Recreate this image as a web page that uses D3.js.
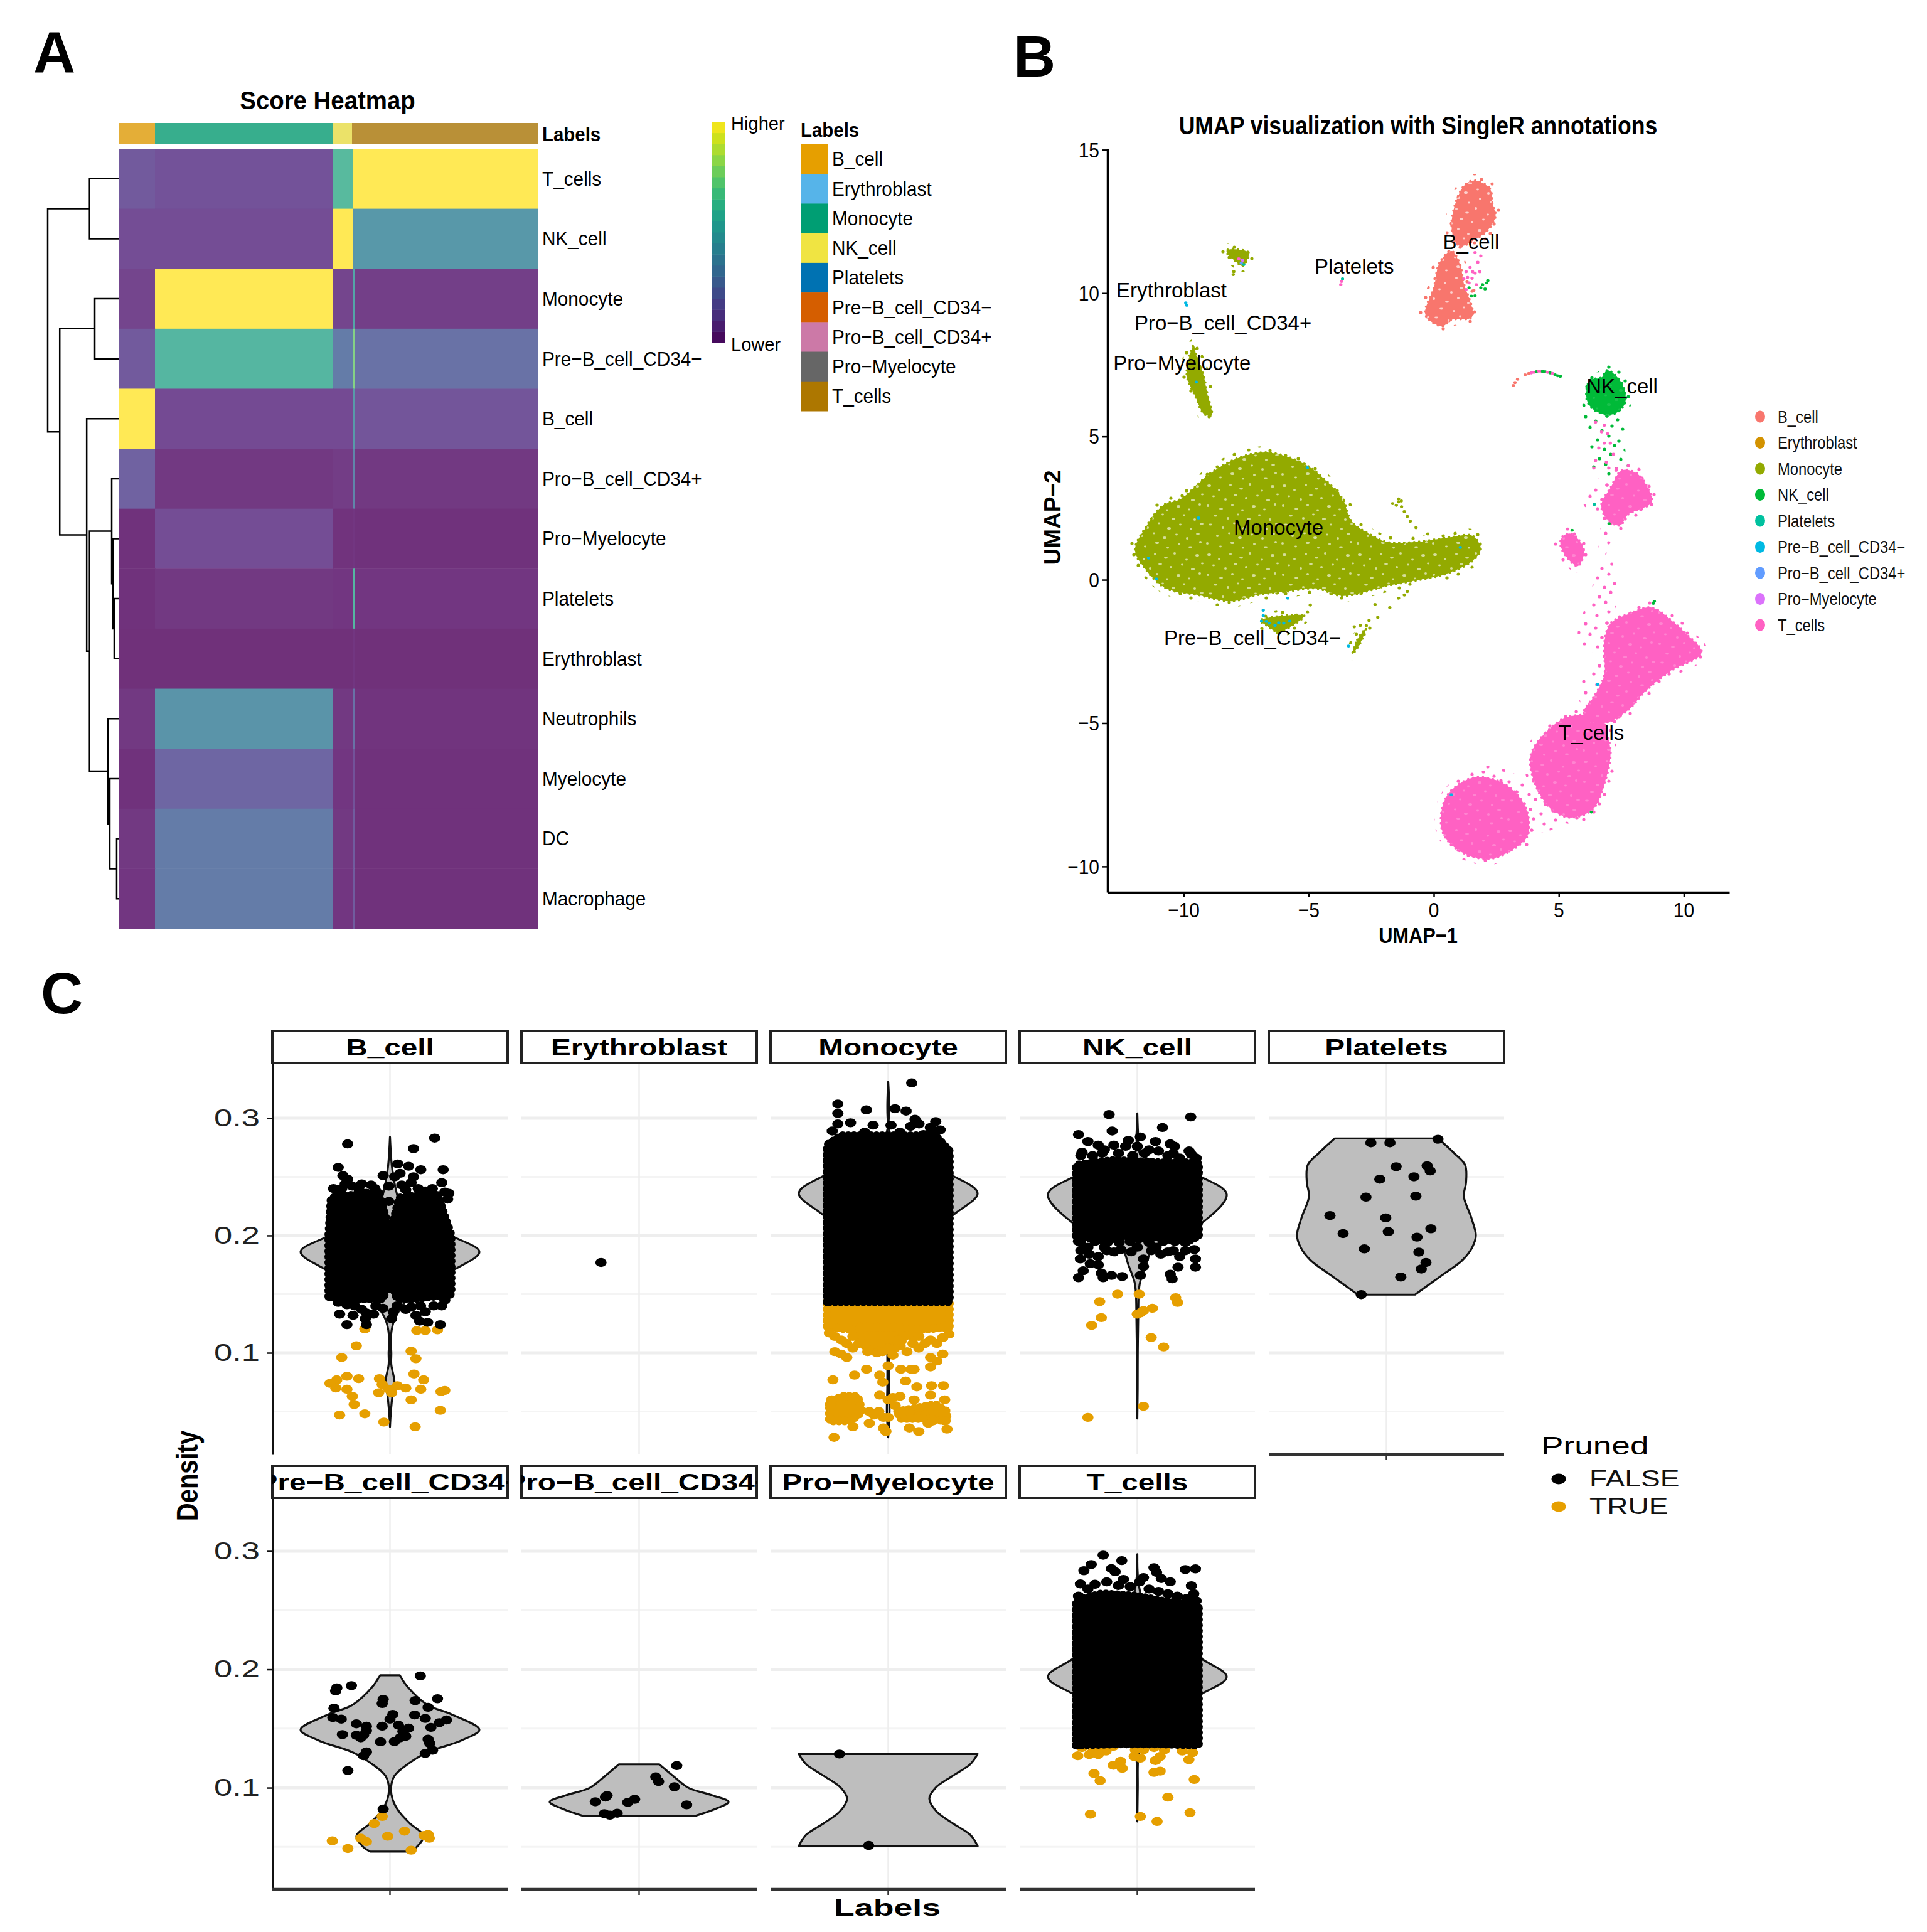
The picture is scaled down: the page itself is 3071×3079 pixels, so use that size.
<!DOCTYPE html>
<html><head><meta charset="utf-8">
<style>html,body{margin:0;padding:0;background:#fff}svg{display:block}text{font-family:"Liberation Sans",Arial,sans-serif;fill:#000}</style>
<script src="https://cdn.jsdelivr.net/npm/d3@7"></script></head><body>
<script>
// ---------- Panel A data ----------
const heatRows=["T_cells","NK_cell","Monocyte","Pre−B_cell_CD34−","B_cell","Pro−B_cell_CD34+","Pro−Myelocyte","Platelets","Erythroblast","Neutrophils","Myelocyte","DC","Macrophage"];
const heatColumns=["B_cell","Monocyte","NK_cell","mixed","T_cells"];
const heatColumnCells=[58,284,32,2,292];
const heatScores=[
[.15,.12,.62,1,1],[.1,.1,1,.42,.44],[.07,1,.07,.5,.05],[.15,.6,.3,.75,.25],
[1,.09,.09,.45,.13],[.18,.03,.04,.35,.03],[.005,.1,.01,.02,.005],[.005,.03,.02,.6,.02],
[0,0,0,.02,0],[.03,.42,.03,.25,.015],[.005,.2,.02,.12,.005],[.03,.3,.03,.16,.005],[.02,.3,.02,.16,.005]];
const annotGroups=["B_cell","Monocyte","NK_cell","T_cells"];
const annotCells=[58,284,30,296];
const labelNames=["B_cell","Erythroblast","Monocyte","NK_cell","Platelets","Pre−B_cell_CD34−","Pro−B_cell_CD34+","Pro−Myelocyte","T_cells"];
const labelColors=["#E69F00","#56B4E9","#009E73","#F0E442","#0072B2","#D55E00","#CC79A7","#666666","#AD7700"];
const dendrogram={h:1,c:[{h:.41,c:["T_cells","NK_cell"]},{h:.83,c:[{h:.336,c:["Monocyte","Pre−B_cell_CD34−"]},{h:.45,c:["B_cell",{h:.41,c:[{h:.097,c:["Pro−B_cell_CD34+",{h:.08,c:["Pro−Myelocyte",{h:.062,c:["Platelets","Erythroblast"]}]}]},{h:.15,c:["Neutrophils",{h:.124,c:["Myelocyte",{h:.027,c:["DC","Macrophage"]}]}]}]}]}]}]};

// ---------- Panel B data (UMAP units) ----------
const umapNames=["B_cell","Erythroblast","Monocyte","NK_cell","Platelets","Pre−B_cell_CD34−","Pro−B_cell_CD34+","Pro−Myelocyte","T_cells"];
const umapColors=["#F8766D","#D39200","#93AA00","#00BA38","#00C19F","#00B9E3","#619CFF","#DB72FB","#FF61C3"];
const umapXTicks=[-10,-5,0,5,10], umapYTicks=[-10,-5,0,5,10,15];
const bCellUpper=[[1.65,13.93],[2.24,13.65],[2.35,13.09],[2.47,12.7],[2.16,12.2],[1.65,11.87],[1.06,11.64],[.82,11.87],[.71,12.42],[.94,13.32],[1.29,13.82]];
const bCellLower=[[.71,11.47],[1.06,10.97],[1.18,10.41],[1.53,9.18],[.71,9.07],[.35,8.85],[-.12,9.02],[-.35,9.3],[0,10.19],[.24,11.08]];
const monoBody=[[-10.12,2.82],[-8.94,3.71],[-7.76,4.27],[-6.59,4.44],[-5.18,4.04],[-4.35,3.49],[-3.65,2.82],[-3.29,2.04],[-2.59,1.6],[-1.88,1.32],[-.71,1.32],[.71,1.49],[1.53,1.54],[1.88,1.09],[1.53,.65],[.47,.2],[-.71,-.02],[-1.88,-.21],[-3.65,-.56],[-4.71,-.3],[-5.88,-.41],[-7.06,-.53],[-8.12,-.75],[-9.41,-.53],[-10.7,-.3],[-11.53,.37],[-11.95,1.04],[-11.53,1.82],[-10.82,2.6]];
const monoStreak=[[-9.6,8.18],[-9.88,7.17],[-9.53,6.39],[-9.18,5.78],[-8.89,5.74],[-9.06,6.5],[-9.22,7.17],[-9.5,7.84]];
const monoTriangle=[[-8.28,11.5],[-7.41,11.42],[-7.48,11.14],[-7.65,10.95],[-7.88,11.08],[-8.24,11.36]];
const monoPreB=[[-6.94,-1.42],[-5.18,-1.25],[-5.65,-1.59],[-6.24,-1.81],[-6.7,-1.59]];
const monoTail=[[-3.25,-2.59],[-3.06,-2.09],[-2.71,-1.7],[-2.94,-2.2]];
const tBlobLow=[[.35,-7.9],[.71,-7.34],[1.65,-6.89],[2.82,-7.12],[3.65,-7.9],[3.76,-8.91],[3.06,-9.46],[2.12,-9.74],[.94,-9.41],[.35,-8.79]];
const tBlobMid=[[3.88,-6.11],[4.47,-5.33],[5.41,-4.77],[6.59,-4.88],[7.06,-5.89],[6.82,-7.12],[6.35,-8.01],[5.41,-8.29],[4.59,-7.9],[4,-7]];
const tArm=[[6,-4.66],[6.47,-3.99],[6.82,-3.32],[6.82,-2.2],[7.06,-1.53],[7.76,-1.2],[8.71,-.97],[9.65,-1.53],[10.07,-1.87],[10.71,-2.54],[9.41,-3.21],[8.47,-3.88],[7.76,-4.55],[6.82,-4.99]];
const tTop=[[7.53,3.82],[8.12,3.71],[8.59,3.15],[8.71,2.7],[7.76,2.27],[7.45,1.9],[6.95,2.1],[6.7,2.6],[7.06,3.2]];
const tSmall=[[5.53,1.6],[6,1.04],[5.76,.48],[5.29,.82],[5.06,1.26],[5.18,1.54]];
const nkCore=[[6.94,7.31],[7.53,6.84],[7.65,6.17],[7.18,5.78],[6.47,5.89],[6.12,6.28],[6.24,6.95],[6.71,7.06]];
const tSparseNeck=[[5.76,-1.98],[6,-1.08],[6.35,-.19],[6.59,.59],[7.06,.7],[7.29,-.08],[7.29,-.86],[7.06,-1.53],[6.82,-2.2],[6.47,-2.54],[6,-2.31]];
const tSparseLower=[[5.76,-3.77],[6.35,-2.98],[6.82,-2.87],[6.59,-3.99],[6,-4.44]];
const tSparseGap=[[3.65,-6.89],[4.47,-7.68],[5.18,-8.35],[4.82,-8.68],[4.12,-8.85],[3.65,-8.91],[3.41,-8.01],[2.82,-6.45],[2,-6.56]];
const tSparseTop=[[6,2.6],[6.2,3.3],[7,3.6],[7.4,1.8],[7.06,1.3],[6.75,.6],[6.55,1.3],[6.7,2.2]];
const nkSparseNeck=[[6,5.83],[7.53,5.72],[7.65,4.6],[7.76,3.82],[6.35,3.71],[6.24,4.6],[5.93,5.5]];
const arcPoints=[[3.18,6.78,0],[3.25,6.88,0],[3.35,7,0],[3.65,7.15,0],[3.8,7.2,0],[3.9,7.22,8],[4,7.24,8],[4.1,7.26,3],[4.2,7.28,8],[4.3,7.28,8],[4.35,7.27,3],[4.45,7.26,3],[4.55,7.24,8],[4.65,7.22,3],[4.75,7.2,8],[4.85,7.15,3],[4.95,7.12,3],[5.06,7.1,3]];
const bRegionPoints=[[1.65,11.42,8],[1.76,11.08,8],[1.84,10.75,8],[1.29,10.75,8],[1.53,10.52,8],[1.41,10.36,8],[1.65,10.7,8],[1.88,11.3,8],[1.2,10.5,8],[1.29,10.13,8],[1.45,10.9,8],[1.7,10.3,8],[1.35,10.55,8],[1.55,10.75,8],[2.12,10.36,3],[1.88,10.19,3],[1.65,9.91,3],[2.16,10.44,3],[1.41,10.19,3],[2.05,10.15,3],[1.95,10.3,3],[1.6,10.1,0],[1.5,9.9,3]];
const minorPoints=[[-3.69,10.41,8],[-3.65,10.5,4],[-3.72,10.3,8],[-9.88,9.58,5],[-9.92,9.66,5],[-7.8,11.2,8],[-7.65,11.15,7],[-7.7,11.05,6],[-7.6,11,4],[-8,10.75,2],[-8.02,10.65,2],[-9.5,6.9,5],
[-6.82,-1.25,5],[-6.89,-1.44,5],[-6.59,-1.51,5],[-6.35,-1.59,5],[-6,-1.51,5],[-5.76,-1.44,5],[-6.82,-1.06,5],[-5.84,-.64,5],[-3.41,-2.31,5],[-6.2,-1.5,5],[-6.7,-1.45,5],[-9.41,2.16,5],[1.06,1.13,5],[-11.1,.03,5],[-11.41,.76,5],[-5.06,3.91,5],
[8.82,-.75,3],[8.78,-.82,3],[5.53,1.73,3],[7.01,1.96,3],[6.42,2.63,4],[6.3,-8.1,3],[6.55,-3.65,5],[.7,-7.5,5]];
const monoTrailPoints=[[-1.41,2.82],[-1.65,2.66],[-1.29,2.55],[-1.41,2.72],[-1.18,2.38],[-1.06,2.21],[-.94,2.04],[-.71,1.82],[-.24,1.6],[-1.5,2.6],[-1.3,2.75],[-2.59,-1.42],[-2.24,-1.31],[-2.35,-.86],[-1.76,-.97],[-1.18,-.53],[-1.06,-.41],[-1.41,-.64],[-4.94,-.88],[-2.94,-1.59],[-3.18,-1.64],[-2.7,-1.6],[-3.1,-1.9]];
const neckPinkPoints=[[6.82,5.39],[6.47,5.5],[7.06,4.77],[6.82,4.77],[6.71,5.16],[6.47,4.16],[7.18,4.38],[7.29,3.82],[6.9,4.1],[6.6,4.6],[6.95,5.1],[7,3.9],[6.4,3.9]];
const umapLabels=[["B_cell",1.49,11.8],["Platelets",-3.18,10.94],["Erythroblast",-10.49,10.1],["Pro−B_cell_CD34+",-8.43,8.96],["Pro−Myelocyte",-10.07,7.57],["NK_cell",7.53,6.76],["Monocyte",-6.21,1.84],["Pre−B_cell_CD34−",-7.25,-2.03],["T_cells",6.3,-5.32]];

// ---------- Panel C data: [score, relative density] and [jitter offset, score] ----------
const scoreTicks=[.1,.2,.3], scoreMinor=[.05,.15,.25];
const violinBCell=[[.284,0],[.26,.02],[.245,.05],[.23,.1],[.22,.18],[.2,.68],[.186,1],[.17,.7],[.15,.25],[.13,.06],[.12,.02],[.11,.01],[.1,.015],[.09,.015],[.075,.05],[.065,.03],[.05,.01],[.037,0]];
const violinMonocyte=[[.331,0],[.29,.01],[.27,.15],[.251,.72],[.236,1],[.217,.72],[.19,.3],[.16,.08],[.14,.02],[.1,.01],[.07,.01],[.05,.015],[.028,0]];
const violinNK=[[.304,0],[.285,.01],[.27,.03],[.25,.71],[.235,1],[.21,.71],[.19,.18],[.175,.1],[.16,.03],[.15,.015],[.13,.01],[.1,.005],[.07,.004],[.044,0]];
const violinPlatelets=[[.2826,.58],[.27,.76],[.26,.88],[.245,.89],[.2335,.865],[.215,.95],[.2,1],[.19,.96],[.179,.85],[.165,.6],[.1496,.32]];
const violinPreB=[[.195,.11],[.185,.2],[.17,.42],[.162,.69],[.149,1],[.14,.8],[.13,.42],[.12,.2],[.11,.05],[.1,.012],[.09,.03],[.08,.1],[.07,.22],[.059,.375],[.05,.3],[.046,.22]];
const violinProB=[[.1198,.225],[.11,.38],[.1,.55],[.094,.8],[.088,1],[.082,.85],[.076,.62]];
const violinProMy=[[.1285,1],[.12,.92],[.11,.72],[.1,.53],[.0908,.46],[.08,.54],[.07,.72],[.06,.92],[.0507,1]];
const violinT=[[.2974,0],[.27,.02],[.24,.15],[.2095,.71],[.1937,1],[.179,.71],[.16,.2],[.14,.05],[.125,.01],[.1,.005],[.0715,0]];

const denseBCell=[[-.26,.148],[-.26,.2],[-.25,.232],[-.1,.236],[-.04,.232],[-.012,.21],[.012,.21],[.04,.232],[.2,.236],[.26,.2],[.26,.15],[.1,.146],[.03,.146],[.015,.155],[-.015,.155],[-.03,.146],[-.2,.146]];
const denseMonocyte=[[-.26,.1436],[-.26,.277],[-.2,.285],[.2,.285],[.26,.272],[.26,.1436]];
const denseMonocyteOrange=[[-.26,.1436],[.26,.1436],[.26,.122],[.15,.12],[-.15,.12],[-.26,.122]];
const patchMonocyteOrange=[[-.12,.122],[.06,.122],[.06,.106],[0,.102],[-.08,.102],[-.12,.11]];
const patchMonoLowLeft=[[-.25,.056],[-.2,.063],[-.13,.063],[-.11,.05],[-.16,.042],[-.25,.042]];
const patchMonoLowRight=[[.04,.05],[.2,.056],[.25,.05],[.25,.042],[.15,.044],[.05,.044]];
const denseNK=[[-.26,.2],[-.26,.26],[-.1,.264],[.1,.262],[.26,.262],[.26,.2],[.14,.196],[.05,.2],[0,.196],[-.05,.2],[-.15,.196]];
const denseT=[[-.26,.136],[-.26,.258],[-.15,.264],[0,.262],[.1,.258],[.26,.254],[.26,.136],[.1,.137],[-.1,.137]];

const blackBCell=[[-.18,.278],[.1,.274],[.19,.283],[-.22,.258],[.226,.256],[.033,.261],[.079,.259],[.131,.256],[-.029,.251],[-.2,.251],[-.18,.248],[.02,.25],[.043,.253],[.22,.245],[-.205,.24],[-.16,.242],[-.064,.24],[-.005,.242],[.067,.239],[.233,.237],[.245,.231],[-.1,.236],[-.005,.229],[-.23,.152],[.233,.145],[-.183,.141],[-.214,.133],[-.157,.132],[-.1,.134],[-.183,.124],[-.1,.124],[.214,.124],[.014,.135],[.126,.127],[.16,.126],[.067,.137],[.186,.14],[.007,.129],[-.105,.129],
[-.24,.24],[-.22,.236],[-.19,.244],[-.13,.238],[-.08,.243],[-.05,.236],[.05,.243],[.09,.245],[.12,.24],[.15,.238],[.18,.24],[.25,.236],[.1,.25],[-.12,.244],[-.15,.14],[-.22,.143],[-.06,.14],[-.03,.138],[.03,.14],[.09,.139],[.13,.14],[.15,.135],[.22,.14],[-.25,.148],[-.12,.137],[.11,.132],[-.07,.133]];
const orangeBCell=[[-.107,.1204],[.114,.119],[.15,.119],[.202,.1196],[-.143,.106],[.09,.1014],[-.205,.096],[.11,.095],[.102,.082],[-.183,.08],[-.133,.078],[-.226,.077],[-.255,.074],[-.045,.078],[.143,.077],[-.033,.073],[.031,.072],[-.23,.07],[-.183,.069],[.067,.07],[.131,.069],[.217,.067],[.233,.068],[-.048,.066],[.007,.066],[-.16,.063],[-.152,.056],[.09,.06],[-.214,.047],[-.107,.048],[.214,.051],[-.026,.041],[.107,.037],[-.005,.069]];
const blackErythroblast=[[-.162,.177]];
const blackMonocyte=[[-.214,.312],[-.214,.304],[-.093,.307],[.1,.33],[.029,.308],[.076,.306],[.114,.299],[.202,.297],[-.214,.295],[-.16,.296],[-.064,.294],[.012,.294],[.131,.295],[.179,.292],[.221,.29],[-.238,.289],[.19,.287],[.095,.293],[-.1,.288],[.05,.288],[.15,.286]];
const orangeMonocyte=[[-.227,.114],[-.2,.111],[-.176,.108],[-.15,.104],[-.2,.099],[-.176,.096],[-.227,.101],[-.125,.108],[-.087,.101],[-.048,.1],[-.023,.101],[0,.104],[.04,.111],[.08,.101],[.105,.108],[.13,.104],[.156,.108],[.18,.111],[.207,.108],[.232,.113],[.258,.116],[.105,.114],[.13,.114],[-.15,.114],[.18,.096],[.207,.093],[.232,.099],[.18,.088],[-.25,.117],[.08,.115],[-.235,.077],[-.143,.081],[-.092,.086],[-.036,.081],[-.023,.075],[0,.089],[.02,.098],[.054,.086],[.097,.086],[.11,.086],[.074,.076],[.122,.071],[.184,.072],[.235,.072],[.18,.064],[-.036,.064],
[-.08,.05],[-.06,.047],[-.04,.05],[-.02,.045],[0,.06],[.02,.062],[.05,.063],[-.23,.028],[-.02,.036],[-.01,.033],[.09,.036],[.13,.033],[.17,.04],[.19,.042],[.24,.06],[.24,.042],[-.24,.06],[-.15,.037],[-.08,.04],[.03,.055],[.0,.045],[.07,.047],[.11,.06],[.09,.05],[.25,.035]];
const blackNK=[[-.12,.303],[.227,.301],[.107,.292],[-.107,.289],[-.25,.286],[.013,.284],[-.21,.28],[.077,.28],[-.038,.281],[.14,.278],[.158,.276],[-.166,.277],[-.1,.277],[0,.276],[.05,.273],[-.235,.271],[-.14,.273],[-.05,.276],[.23,.269],[.153,.27],[-.242,.194],[-.204,.184],[-.242,.18],[-.166,.182],[-.1,.186],[-.077,.194],[.05,.194],[.153,.187],[.242,.188],[.247,.18],[.247,.173],[.173,.173],[.026,.18],[.026,.1735],[-.166,.175],[-.23,.17],[-.153,.168],[-.25,.164],[-.145,.164],[-.11,.166],[-.064,.165],[.013,.166],[.14,.167],[.148,.163],[.204,.187],[.1,.184],[-.026,.186],[-.128,.194],[.204,.194],
[-.25,.195],[-.21,.19],[-.18,.195],[-.13,.187],[-.07,.188],[0,.19],[.08,.19],[.11,.195],[.16,.195],[.22,.196],[.24,.198],[-.24,.187],[-.2,.176],[.18,.182],[-.14,.19],[.13,.186],[.06,.187],[-.03,.195],[-.24,.268],[-.19,.268],[-.15,.27],[-.08,.27],[-.02,.268],[.03,.27],[.09,.272],[.13,.268],[.18,.266],[.25,.266],[.22,.272]];
const orangeNK=[[-.084,.15],[.008,.15],[.163,.147],[.171,.143],[-.16,.1436],[.013,.134],[.026,.136],[.064,.138],[-.153,.13],[-.194,.1234],[.059,.113],[.112,.105],[.026,.0545],[-.21,.045],[0,.133]];
const blackPlatelets=[[-.066,.279],[.015,.279],[.219,.282],[.041,.2586],[.173,.2594],[.186,.255],[.117,.25],[-.028,.248],[-.087,.2327],[.125,.2335],[-.24,.217],[-.003,.215],[.189,.2057],[-.184,.2016],[.008,.2033],[.13,.1986],[-.094,.1886],[.138,.1858],[.168,.177],[.148,.1714],[.061,.1646],[-.107,.1496]];
const blackPreB=[[.129,.1945],[-.226,.1844],[-.164,.1863],[-.231,.1818],[.202,.1752],[-.029,.1747],[-.033,.1712],[.107,.1736],[-.238,.1673],[.162,.168],[-.243,.1594],[-.207,.158],[.012,.162],[0,.158],[.105,.1615],[.15,.1586],[.24,.1573],[.21,.155],[-.143,.154],[-.033,.152],[.036,.1528],[.174,.151],[-.1,.152],[-.1,.1483],[.079,.1504],[-.112,.1446],[-.202,.1449],[-.143,.1443],[-.124,.1422],[.067,.1435],[.043,.1422],[.019,.139],[-.04,.1388],[.162,.141],[.169,.1375],[.181,.1317],[.15,.129],[-.1,.1303],[-.112,.127],[-.179,.1145],[-.029,.082],[.055,.1475]];
const orangePreB=[[-.033,.0757],[-.067,.0697],[.062,.0633],[.162,.0604],[.145,.0596],[-.01,.059],[-.124,.0573],[.167,.0573],[-.1,.0544],[-.245,.0551],[-.179,.0486],[.09,.0472]];
const blackProB=[[.16,.1187],[.071,.1092],[.083,.1053],[.15,.1008],[-.136,.0934],[-.143,.0921],[-.019,.0902],[-.048,.0876],[-.186,.0881],[.202,.0855],[-.148,.0781],[-.093,.0784],[-.124,.0768]];
const blackProMy=[[-.207,.1285],[-.083,.0512]];
const blackT=[[-.145,.2966],[-.196,.2887],[-.066,.292],[-.227,.2834],[-.11,.2852],[-.094,.2826],[.071,.286],[.204,.2844],[.247,.285],[.082,.282],[.102,.2768],[-.059,.276],[-.242,.2723],[.23,.2707],[.026,.2776],[.14,.2741],
[-.25,.262],[-.21,.268],[-.18,.272],[-.13,.274],[-.08,.271],[-.03,.27],[.01,.274],[.05,.268],[.09,.266],[.13,.264],[.17,.262],[.21,.26],[.25,.258],[.24,.264]];
const orangeT=[[-.253,.127],[-.235,.134],[-.191,.13],[-.16,.132],[-.133,.131],[-.102,.135],[-.204,.128],[-.166,.128],[-.008,.132],[.026,.132],[-.013,.1264],[.013,.125],[.071,.134],[.115,.132],[.191,.131],[.235,.1296],[.219,.1237],[.097,.1264],[.077,.123],[-.071,.1224],[-.102,.119],[-.064,.1164],[-.184,.112],[-.158,.106],[.071,.113],[.097,.114],[.242,.107],[.13,.092],[-.199,.0776],[.013,.0757],[.224,.0789],[.084,.0715]];
const prunedLevels=["FALSE","TRUE"], prunedColors=["#000000","#E69F00"];

// ---------- helpers ----------
const svg=d3.select("body").append("svg").attr("width",3071).attr("height",3079).attr("viewBox","0 0 3071 3079");
const defs=svg.append("defs");
function T(g,s,x,y,o={}){const {size=32,sx=1,sy=1,anchor="start",weight="normal",rot=0,fill="#000",base="central"}=o;
 return g.append("text").text(s).attr("transform",`translate(${x},${y}) rotate(${rot}) scale(${sx},${sy})`).attr("font-size",size).attr("font-weight",weight).attr("text-anchor",anchor).attr("dominant-baseline",base).style("fill",fill);}
T(svg,"A",53,115,{size:93,weight:"bold",base:"auto"});
T(svg,"B",1615,122,{size:93,weight:"bold",base:"auto"});
T(svg,"C",65,1615,{size:93,weight:"bold",base:"auto"});

// ---------- Panel A ----------
const A=svg.append("g");
const cum=a=>{let s=0;return a.map(v=>{const r=[s,s+v];s+=v;return r;});};
const cellX=d3.scaleLinear([0,d3.sum(heatColumnCells)],[189,857]);
const rowY=d3.scaleBand(heatRows,[237,1480]);
const viridisAlpha=t=>{const c=d3.rgb(d3.interpolateViridis(t));return d3.rgb(c.r*.8+58,c.g*.8+48,c.b*.8+55).formatHex();};
const colSpans=cum(heatColumnCells);
heatRows.forEach((r,i)=>heatColumns.forEach((c,j)=>{
 A.append("rect").attr("x",cellX(colSpans[j][0])).attr("y",rowY(r)).attr("width",cellX(colSpans[j][1])-cellX(colSpans[j][0])+.5).attr("height",rowY.bandwidth()+.5).attr("fill",viridisAlpha(heatScores[i][j]));
}));
const annotColor=d3.scaleOrdinal(labelNames,labelColors);
cum(annotCells).forEach((sp,i)=>{const c=d3.rgb(annotColor(annotGroups[i]));
 A.append("rect").attr("x",cellX(sp[0])).attr("y",196).attr("width",cellX(sp[1])-cellX(sp[0])).attr("height",34).attr("fill",d3.rgb(c.r*.75+55,c.g*.75+55,c.b*.75+55).formatHex());});
heatRows.forEach(r=>T(A,r,864,rowY(r)+rowY.bandwidth()/2,{size:32,sx:.93}));
T(A,"Labels",864,214,{size:32,sx:.92,weight:"bold"});
T(A,"Score Heatmap",522,160,{size:40,sx:.96,weight:"bold",anchor:"middle"});
// dendrogram
const dX=d3.scaleLinear([0,1],[189,76]);
function dendro(n){ if(typeof n==="string") return {x:dX(0),y:rowY(n)+rowY.bandwidth()/2};
 const k=n.c.map(dendro), x=dX(n.h), y=(k[0].y+k[1].y)/2;
 A.append("path").attr("d",`M${k[0].x},${k[0].y}H${x}V${k[1].y}H${k[1].x}`).attr("fill","none").attr("stroke","#000").attr("stroke-width",2.5);
 return {x,y};}
dendro(dendrogram);
// colour bar
const barScale=d3.scaleLinear([0,1],[546,194]);
d3.range(0,1,.05).forEach(t=>A.append("rect").attr("x",1134).attr("y",barScale(t+.05)).attr("width",21).attr("height",barScale(t)-barScale(t+.05)+.5).attr("fill",d3.interpolateViridis(t+.025)));
T(A,"Higher",1165,196,{size:30,sx:.97});
T(A,"Lower",1165,548,{size:30,sx:.97});
T(A,"Labels",1276,207,{size:32,sx:.92,weight:"bold"});
const swatch=d3.scaleBand(labelNames,[230,655]);
labelNames.forEach((n,i)=>{A.append("rect").attr("x",1277).attr("y",swatch(n)).attr("width",42).attr("height",swatch.bandwidth()+.5).attr("fill",labelColors[i]);
 T(A,n,1326,swatch(n)+swatch.bandwidth()/2,{size:32,sx:.93});});

// ---------- Panel B ----------
const B=svg.append("g");
const ux=d3.scaleLinear([-13.05,11.82],[1765,2756]);
const uy=d3.scaleLinear([-10.9,15.04],[1422,237]);
const uColor=d3.scaleOrdinal(umapNames,umapColors);
const tile=[[7,4],[23,11],[41,3],[58,9],[72,2],[91,12],[108,5],[14,21],[33,26],[49,19],[66,24],[84,20],[101,27],[116,18],[5,36],[26,41],[44,35],[60,43],[78,37],[95,42],[112,34],[17,52],[37,56],[53,50],[70,57],[87,51],[104,58],[9,66],[29,71],[47,64],[63,72],[81,66],[98,73],[115,65],[20,84],[39,80],[56,87],[75,82],[92,88],[109,81],[4,96],[25,101],[44,95],[61,103],[79,97],[97,102],[113,94]];
function flecks(id,color,speck,op){const p=defs.append("pattern").attr("id",id).attr("patternUnits","userSpaceOnUse").attr("width",120).attr("height",110);
 p.append("rect").attr("width",120).attr("height",110).attr("fill",color);
 tile.forEach((t,i)=>p.append("ellipse").attr("cx",t[0]).attr("cy",t[1]).attr("rx",i%3?2:3).attr("ry",i%2?1.4:2).attr("fill",speck).attr("opacity",op));}
function sparse(id,color){const p=defs.append("pattern").attr("id",id).attr("patternUnits","userSpaceOnUse").attr("width",120).attr("height",110);
 tile.forEach(t=>p.append("circle").attr("cx",t[0]).attr("cy",t[1]).attr("r",2.6).attr("fill",color));}
flecks("fMono",uColor("Monocyte"),"#fff",.6);
flecks("fB",uColor("B_cell"),"#fff",.65);
flecks("fT",uColor("T_cells"),"#fff",.22);
flecks("fNK",uColor("NK_cell"),"#fff",.1);
sparse("sT",uColor("T_cells"));sparse("sNK",uColor("NK_cell"));sparse("sB",uColor("B_cell"));sparse("sM",uColor("Monocyte"));
const uLine=d3.line().x(d=>ux(d[0])).y(d=>uy(d[1])).curve(d3.curveCatmullRomClosed.alpha(.5));
function blob(pts,color,fill,halo){
 B.append("path").attr("d",uLine(pts)).attr("fill","none").attr("stroke",`url(#${halo})`).attr("stroke-width",20);
 B.append("path").attr("d",uLine(pts)).attr("fill",fill).attr("stroke",color).attr("stroke-width",4).attr("stroke-linecap","round").attr("stroke-dasharray","0 8");}
function sparseBlob(pts,id){B.append("path").attr("d",uLine(pts)).attr("fill",`url(#${id})`);}
const dots=(pts,colorOf)=>pts.forEach(d=>B.append("ellipse").attr("cx",ux(d[0])).attr("cy",uy(d[1])).attr("rx",2.6).attr("ry",2.4).attr("fill",colorOf(d)));
[tSparseNeck,tSparseLower,tSparseGap,tSparseTop].forEach(p=>sparseBlob(p,"sT"));
sparseBlob(nkSparseNeck,"sNK");
[bCellUpper,bCellLower].forEach(p=>blob(p,uColor("B_cell"),"url(#fB)","sB"));
[monoBody,monoStreak,monoTriangle,monoPreB,monoTail].forEach(p=>blob(p,uColor("Monocyte"),p===monoBody?"url(#fMono)":uColor("Monocyte"),"sM"));
[tBlobLow,tBlobMid,tArm,tTop,tSmall].forEach(p=>blob(p,uColor("T_cells"),"url(#fT)","sT"));
blob(nkCore,uColor("NK_cell"),"url(#fNK)","sNK");
dots(monoTrailPoints,()=>uColor("Monocyte"));
dots(neckPinkPoints,()=>uColor("T_cells"));
dots(arcPoints,d=>umapColors[d[2]]);
dots(bRegionPoints,d=>umapColors[d[2]]);
dots(minorPoints,d=>umapColors[d[2]]);
const axStyle=g=>{g.select(".domain").attr("stroke","#000").attr("stroke-width",3.5);g.selectAll(".tick line").attr("stroke","#000").attr("stroke-width",2.5);g.selectAll(".tick text").remove();};
B.append("g").attr("transform","translate(1765,0)").call(d3.axisLeft(uy).tickValues(umapYTicks).tickSize(8).tickSizeOuter(0)).call(axStyle);
B.append("g").attr("transform","translate(0,1422)").call(d3.axisBottom(ux).tickValues(umapXTicks).tickSize(8).tickSizeOuter(0)).call(axStyle);
umapYTicks.forEach(v=>T(B,String(v).replace("-","−"),1752,uy(v),{size:34,sx:.88,anchor:"end"}));
umapXTicks.forEach(v=>T(B,String(v).replace("-","−"),ux(v),1450,{size:34,sx:.88,anchor:"middle"}));
T(B,"UMAP−1",2260,1491,{size:35,sx:.88,weight:"bold",anchor:"middle"});
T(B,"UMAP−2",1677,825,{size:37,weight:"bold",anchor:"middle",rot:-90});
T(B,"UMAP visualization with SingleR annotations",2260,200,{size:40,sx:.89,weight:"bold",anchor:"middle"});
umapLabels.forEach(l=>T(B,l[0],ux(l[1]),uy(l[2]),{size:34,sx:.97,anchor:"middle"}));
const uLeg=d3.scalePoint(umapNames,[664,996]);
umapNames.forEach((n,i)=>{B.append("ellipse").attr("cx",2805).attr("cy",uLeg(n)).attr("rx",8).attr("ry",9.5).attr("fill",umapColors[i]);
 T(B,n,2833,uLeg(n),{size:27,sx:.88,fill:"#111"});});

// ---------- Panel C ----------
const C=svg.append("g");
const panels=[
 {name:"B_cell",col:0,row:0,violin:violinBCell,dark:[denseBCell],light:[],black:blackBCell,orange:orangeBCell},
 {name:"Erythroblast",col:1,row:0,violin:null,dark:[],light:[],black:blackErythroblast,orange:[]},
 {name:"Monocyte",col:2,row:0,violin:violinMonocyte,dark:[denseMonocyte],light:[denseMonocyteOrange,patchMonocyteOrange,patchMonoLowLeft,patchMonoLowRight],black:blackMonocyte,orange:orangeMonocyte},
 {name:"NK_cell",col:3,row:0,violin:violinNK,dark:[denseNK],light:[],black:blackNK,orange:orangeNK},
 {name:"Platelets",col:4,row:0,violin:violinPlatelets,dark:[],light:[],black:blackPlatelets,orange:[],axis:true},
 {name:"Pre−B_cell_CD34−",col:0,row:1,violin:violinPreB,dark:[],light:[],black:blackPreB,orange:orangePreB,axis:true},
 {name:"Pro−B_cell_CD34+",col:1,row:1,violin:violinProB,dark:[],light:[],black:blackProB,orange:[],axis:true},
 {name:"Pro−Myelocyte",col:2,row:1,violin:violinProMy,dark:[],light:[],black:blackProMy,orange:[],axis:true},
 {name:"T_cells",col:3,row:1,violin:violinT,dark:[denseT],light:[],black:blackT,orange:orangeT,axis:true}];
const colX=c=>434+c*397, rowTop=[1694,2387], pw=375, ph=624, sh=51;
const jx=d3.scaleLinear([-.5,.5],[0,pw]);
const rowScore=[d3.scaleLinear([.0134,.347],[ph,0]),d3.scaleLinear([.0141,.3451],[ph,0])];
panels.forEach((p,i)=>{
 const sy=rowScore[p.row];
 const vArea=d3.area().y(d=>sy(d[0])).x0(d=>jx(-d[1]*.38)).x1(d=>jx(d[1]*.38)).curve(d3.curveCatmullRom);
 const polyLine=d3.line().x(d=>jx(d[0])).y(d=>sy(d[1])).curve(d3.curveLinearClosed);
 const g=C.append("g").attr("transform",`translate(${colX(p.col)},${rowTop[p.row]})`);
 scoreMinor.forEach(v=>g.append("line").attr("x1",0).attr("x2",pw).attr("y1",sy(v)).attr("y2",sy(v)).attr("stroke","#F4F4F4").attr("stroke-width",3));
 scoreTicks.forEach(v=>g.append("line").attr("x1",0).attr("x2",pw).attr("y1",sy(v)).attr("y2",sy(v)).attr("stroke","#EEEEEE").attr("stroke-width",5));
 g.append("line").attr("x1",jx(0)).attr("x2",jx(0)).attr("y1",0).attr("y2",ph).attr("stroke","#EEEEEE").attr("stroke-width",2.5);
 if(p.violin) g.append("path").attr("d",vArea(p.violin)).attr("fill","#BEBEBE").attr("stroke","#111").attr("stroke-width",3.2).attr("stroke-linejoin","round");
 const band=(poly,color)=>g.append("path").attr("d",polyLine(poly)).attr("fill",color).attr("stroke",color).attr("stroke-width",14).attr("stroke-linecap","round").attr("stroke-dasharray","0 9");
 const pts=(arr,color)=>arr.forEach(d=>g.append("ellipse").attr("cx",jx(d[0])).attr("cy",sy(d[1])).attr("rx",9).attr("ry",7.2).attr("fill",color));
 p.light.forEach(q=>band(q,prunedColors[1]));
 pts(p.orange,prunedColors[1]);
 p.dark.forEach(q=>band(q,prunedColors[0]));
 pts(p.black,prunedColors[0]);
 // strip
 const sg=C.append("g").attr("transform",`translate(${colX(p.col)},${rowTop[p.row]-sh})`);
 defs.append("clipPath").attr("id","strip"+i).append("rect").attr("width",pw).attr("height",sh);
 sg.append("rect").attr("width",pw).attr("height",sh).attr("fill","#fff").attr("stroke","#222").attr("stroke-width",4);
 sg.append("g").attr("clip-path",`url(#strip${i})`).call(s=>T(s,p.name,pw/2,sh/2+1,{size:37,sx:1.29,weight:"bold",anchor:"middle"}));
 if(p.col===0){
  g.append("g").call(d3.axisLeft(sy).tickValues(scoreTicks).tickSize(8).tickSizeOuter(0)).call(a=>{a.select(".domain").attr("stroke","#111").attr("stroke-width",3);a.selectAll(".tick line").attr("stroke","#111").attr("stroke-width",2.5);a.selectAll(".tick text").remove();});
  scoreTicks.forEach(v=>T(g,d3.format(".1f")(v),-20,sy(v),{size:38,sx:1.38,anchor:"end",fill:"#222"}));
 }
 if(p.axis){
  g.append("line").attr("x1",0).attr("x2",pw).attr("y1",ph).attr("y2",ph).attr("stroke","#333").attr("stroke-width",4.5);
  g.append("line").attr("x1",jx(0)).attr("x2",jx(0)).attr("y1",ph).attr("y2",ph+9).attr("stroke","#333").attr("stroke-width",2.5);
 }
});
T(C,"Labels",1414,3040,{size:37,sx:1.45,weight:"bold",anchor:"middle"});
T(C,"Density",298,2352,{size:40,sy:1.2,weight:"bold",anchor:"middle",rot:-90});
T(C,"Pruned",2456,2304,{size:40,sx:1.33});
const pLeg=d3.scalePoint(prunedLevels,[2357,2401]);
prunedLevels.forEach((n,i)=>{C.append("ellipse").attr("cx",2484).attr("cy",pLeg(n)).attr("rx",11.5).attr("ry",8.5).attr("fill",prunedColors[i]);
 T(C,n,2533,pLeg(n),{size:36,sx:1.28,fill:"#111"});});
</script></body></html>
